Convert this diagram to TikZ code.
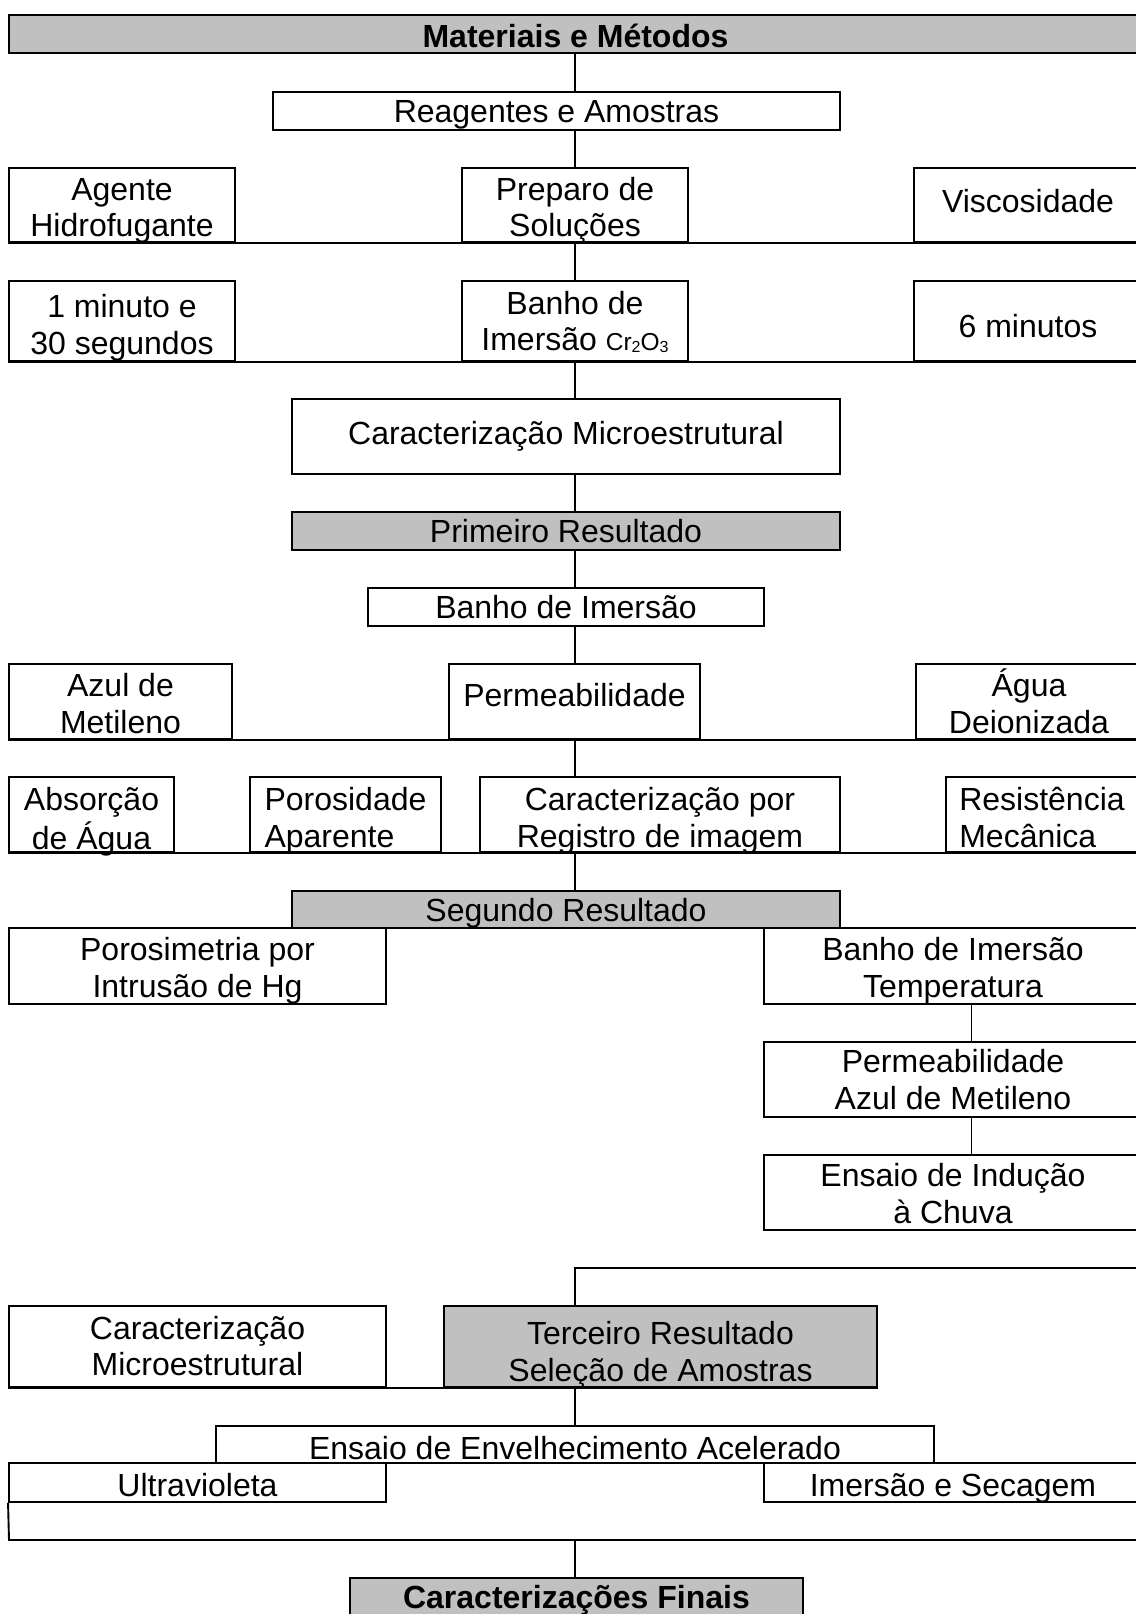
\documentclass[tikz,border=0pt]{standalone}
\usepackage{fontspec}
\setmainfont{Liberation Sans}
\definecolor{boxgray}{RGB}{192,192,192}
\newcommand\mkbox[7]{%
  \node[#6, minimum width={(#4-#2)*1pt}, minimum height={(#5-#3)*1pt}] (#1) at ({(#2+#4)/2},{(#3+#5)/2}) {#7};}
\newcommand\subsc[1]{\raisebox{-1.5pt}{\fontsize{16}{16}\selectfont #1}}
% single line text, caps raised by #1 pt above the box centre
\newcommand\one[2]{\raisebox{0pt}[\dimexpr 23pt-2\dimexpr #1pt\relax\relax][0pt]{#2}}
% two line text, caps raised by #1 pt above the box centre, column type #2
\newcommand\two[4]{\raisebox{0pt}[20pt][\dimexpr 33.5pt+2\dimexpr #1pt\relax\relax]{\begin{tabular}[t]{@{}#2@{}}#3\\#4\end{tabular}}}
\tikzset{
  bx/.style={draw, line width=1.9pt, inner sep=0pt, font=\fontsize{32}{36.5}\selectfont},
  gbx/.style={bx, fill=boxgray},
  bbx/.style={gbx, font=\fontsize{32}{36.5}\selectfont\bfseries},
  ln/.style={line width=1.6pt},
  bxln/.style={line width=1.9pt},
}
\begin{document}
\begin{tikzpicture}[x=1pt,y=-1pt]
\useasboundingbox (0,0) rectangle (1135,1614);
\fill[white] (0,0) rectangle (1135,1614);
% boxes
\mkbox{title}{9}{15}{1142}{53}{bbx}{\one{-1.5}{Materiais e Métodos}}
\mkbox{reag}{273}{92}{840}{130}{bx}{\one{0}{Reagentes e Amostras}}
\mkbox{agente}{9}{168}{235}{242}{bx}{\two{-2}{c}{Agente}{Hidrofugante}}
\mkbox{prep}{462}{168}{688}{242}{bx}{\two{-2}{c}{Preparo de}{Soluções}}
\mkbox{visc}{914}{168}{1142}{242}{bx}{\one{4.3}{Viscosidade}}
\mkbox{mina}{9}{281}{235}{361}{bx}{\two{-3.6}{c}{1 minuto e}{30 segundos}}
\mkbox{banhoa}{462}{281}{688}{361}{bx}{\two{0}{c}{Banho de}{Imersão {\fontsize{24.5}{24.5}\selectfont Cr\subsc{2}O\subsc{3}}}}
\mkbox{six}{914}{281}{1142}{361}{bx}{\one{-4.8}{6 minutos}}
\mkbox{cmicro}{292}{399}{840}{474}{bx}{\one{3.7}{Caracterização Microestrutural}}
\mkbox{prim}{292}{512}{840}{550}{gbx}{\one{0}{Primeiro Resultado}}
\mkbox{banhob}{368}{588}{764}{626}{bx}{\one{0}{Banho de Imersão}}
\mkbox{azul}{9}{664}{232}{739}{bx}{\two{-1.8}{c}{Azul de}{Metileno}}
\mkbox{perm}{449}{664}{700}{739}{bx}{\one{6.2}{Permeabilidade}}
\mkbox{agua}{916}{664}{1142}{739}{bx}{\two{-1.8}{c}{Água}{Deionizada}}
\mkbox{absor}{9}{777}{174}{852}{bx}{\two{-3}{c}{Absorção}{de Água}}
\mkbox{poros}{250}{777}{441}{852}{bx}{\two{-3}{l}{Porosidade}{Aparente}}
\mkbox{cpor}{480}{777}{840}{852}{bx}{\two{-3}{c}{Caracterização por}{Registro de imagem}}
\mkbox{resist}{946}{777}{1142}{852}{bx}{\hspace*{-4pt}\two{-3}{l}{Resistência}{Mecânica}}
\mkbox{seg}{292}{891}{840}{928}{gbx}{\one{0}{Segundo Resultado}}
\mkbox{porosim}{9}{928}{386}{1004}{bx}{\two{-1.3}{c}{Porosimetria por}{Intrusão de Hg}}
\mkbox{btemp}{764}{928}{1142}{1004}{bx}{\two{-1.3}{c}{Banho de Imersão}{Temperatura}}
\mkbox{pazul}{764}{1042}{1142}{1117}{bx}{\two{0}{c}{Permeabilidade}{Azul de Metileno}}
\mkbox{induc}{764}{1155}{1142}{1230}{bx}{\two{-1}{c}{Ensaio de Indução}{à Chuva}}
\mkbox{cmicrob}{9}{1306}{386}{1387}{bx}{\two{0.7}{c}{Caracterização}{Microestrutural}}
\mkbox{terc}{444}{1306}{877}{1387}{gbx}{\two{-4.8}{c}{Terceiro Resultado}{Seleção de Amostras}}
\mkbox{envelh}{216}{1426}{934}{1463}{bx}{\one{-3.3}{Ensaio de Envelhecimento Acelerado}}
\mkbox{ultra}{9}{1463}{386}{1502}{bx}{\one{-2}{Ultravioleta}}
\mkbox{imers}{764}{1463}{1142}{1502}{bx}{\one{-2}{Imersão e Secagem}}
\mkbox{final}{350}{1578}{803}{1618}{bbx}{\one{1.3}{Caracterizações Finais}}
% helper coordinates
\coordinate (cx) at (575,0);
\coordinate (crx) at (971.5,0);
\coordinate (tr) at (1142,1268);
\coordinate (bl) at (9,1540);
\coordinate (br) at (1142,1540);
% row base lines
\draw[bxln] (agente.south west) -- (visc.south east);
\draw[bxln] (mina.south west) -- (six.south east);
\draw[bxln] (azul.south west) -- (agua.south east);
\draw[bxln] (absor.south west) -- (resist.south east);
\draw[bxln] (cmicrob.south west) -- (terc.south east);
\draw[bxln] (ultra.south west) -- (bl) -- (br);
% connectors
\draw[ln] (title.south -| cx) -- (reag.north -| cx);
\draw[ln] (reag.south -| cx) -- (prep.north -| cx);
\draw[ln] (prep.south -| cx) -- (banhoa.north -| cx);
\draw[ln] (banhoa.south -| cx) -- (cmicro.north -| cx);
\draw[ln] (cmicro.south -| cx) -- (prim.north -| cx);
\draw[ln] (prim.south -| cx) -- (banhob.north -| cx);
\draw[ln] (banhob.south -| cx) -- (perm.north -| cx);
\draw[ln] (perm.south -| cx) -- (cpor.north -| cx);
\draw[ln] (cpor.south -| cx) -- (seg.north -| cx);
\draw[ln] (btemp.south -| crx) -- (pazul.north -| crx);
\draw[ln] (pazul.south -| crx) -- (induc.north -| crx);
\draw[ln] (tr) -| (terc.north -| cx);
\draw[ln] (terc.south -| cx) -- (envelh.north -| cx);
\draw[ln] (bl -| cx) -- (final.north -| cx);
\end{tikzpicture}
\end{document}
